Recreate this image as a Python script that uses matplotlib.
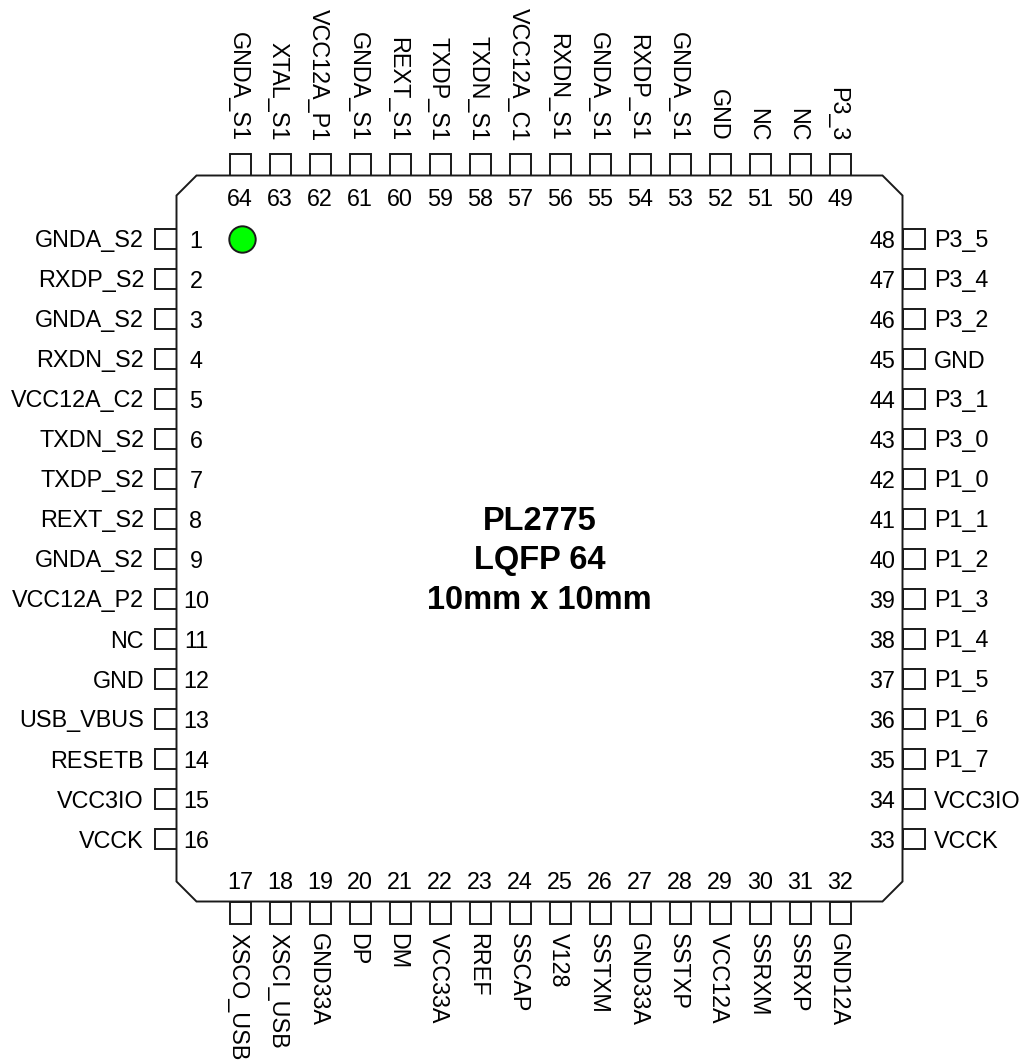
# -*- coding: utf-8 -*-
"""
Pin-out diagram of the PL2775 LQFP64 package
"""

import matplotlib
matplotlib.use('Agg')
import matplotlib.pyplot as plt
from matplotlib.patches import Circle, Polygon, Rectangle

left_pins = ['GNDA_S2', 'RXDP_S2', 'GNDA_S2', 'RXDN_S2', 'VCC12A_C2', 'TXDN_S2',
             'TXDP_S2', 'REXT_S2', 'GNDA_S2', 'VCC12A_P2', 'NC', 'GND',
             'USB_VBUS', 'RESETB', 'VCC3IO', 'VCCK']
bottom_pins = ['XSCO_USB', 'XSCI_USB', 'GND33A', 'DP', 'DM', 'VCC33A', 'RREF', 'SSCAP',
               'V128', 'SSTXM', 'GND33A', 'SSTXP', 'VCC12A', 'SSRXM', 'SSRXP', 'GND12A']
right_pins = ['VCCK', 'VCC3IO', 'P1_7', 'P1_6', 'P1_5', 'P1_4', 'P1_3', 'P1_2',
              'P1_1', 'P1_0', 'P3_0', 'P3_1', 'GND', 'P3_2', 'P3_4', 'P3_5']
top_pins = ['P3_3', 'NC', 'NC', 'GND', 'GNDA_S1', 'RXDP_S1', 'GNDA_S1', 'RXDN_S1',
            'VCC12A_C1', 'TXDN_S1', 'TXDP_S1', 'REXT_S1', 'GNDA_S1', 'VCC12A_P1',
            'XTAL_S1', 'GNDA_S1']
title_lines = ['PL2775', 'LQFP 64', '10mm x 10mm']

plt.rcParams['font.family'] = ['Liberation Sans', 'DejaVu Sans']

X0, X1, Y0, Y1 = 176.5, 902.5, 175.5, 901.5
CUT = 20
PITCH = 40
PIN_W = 21
PIN_L = 22
LW = 1.4
FS = 16.8

fig = plt.figure(figsize=(10.24, 10.62), dpi=100)
ax = fig.add_axes([0, 0, 1, 1])
ax.set_xlim(0, 1024)
ax.set_ylim(1062, 0)
ax.axis('off')


def pin_box(x, y, w, h):
    ax.add_patch(Rectangle((x, y), w, h, fc='white', ec='#1a1a1a', lw=LW, zorder=1))


for i, name in enumerate(left_pins):
    y = 239 + i*PITCH
    pin_box(X0-PIN_L, y-10, PIN_L, PIN_W-1)
    ax.text(144, y-0.5, name, ha='right', va='center_baseline', fontsize=FS)
    ax.text(196, y-0.5, str(i+1), ha='center', va='center_baseline', fontsize=FS)

for i, name in enumerate(bottom_pins):
    x = 240 + i*PITCH
    pin_box(x-10.5, Y1, PIN_W, PIN_L)
    ax.text(x-2, 933, name, ha='center', va='top', rotation=-90, fontsize=FS,
            rotation_mode='default')
    ax.text(x, 880, str(i+17), ha='center', va='center_baseline', fontsize=FS)

for i, name in enumerate(right_pins):
    y = 839 - i*PITCH
    pin_box(X1, y-10, PIN_L, PIN_W-1)
    ax.text(934, y-0.5, name, ha='left', va='center_baseline', fontsize=FS)
    ax.text(882, y-0.5, str(i+33), ha='center', va='center_baseline', fontsize=FS)

for i, name in enumerate(top_pins):
    x = 840 - i*PITCH
    pin_box(x-10.5, Y0-PIN_L, PIN_W, PIN_L)
    ax.text(x-2, 141, name, ha='center', va='bottom', rotation=-90, fontsize=FS,
            rotation_mode='default')
    ax.text(x, 197, str(i+49), ha='center', va='center_baseline', fontsize=FS)

body = [(X0+CUT, Y0), (X1-CUT, Y0), (X1, Y0+CUT), (X1, Y1-CUT),
        (X1-CUT, Y1), (X0+CUT, Y1), (X0, Y1-CUT), (X0, Y0+CUT)]
ax.add_patch(Polygon(body, closed=True, fc='white', ec='#1a1a1a', lw=LW, zorder=2))
ax.add_patch(Circle((242.5, 239.5), 13.2, fc='#00ff00', ec='#1a1a1a', lw=LW, zorder=3))

for line, y in zip(title_lines, [518, 557, 597]):
    ax.text(539.5, y, line, ha='center', va='center_baseline', fontsize=23.5,
            fontweight='bold', zorder=4)

fig.savefig('out.png', dpi=100)
